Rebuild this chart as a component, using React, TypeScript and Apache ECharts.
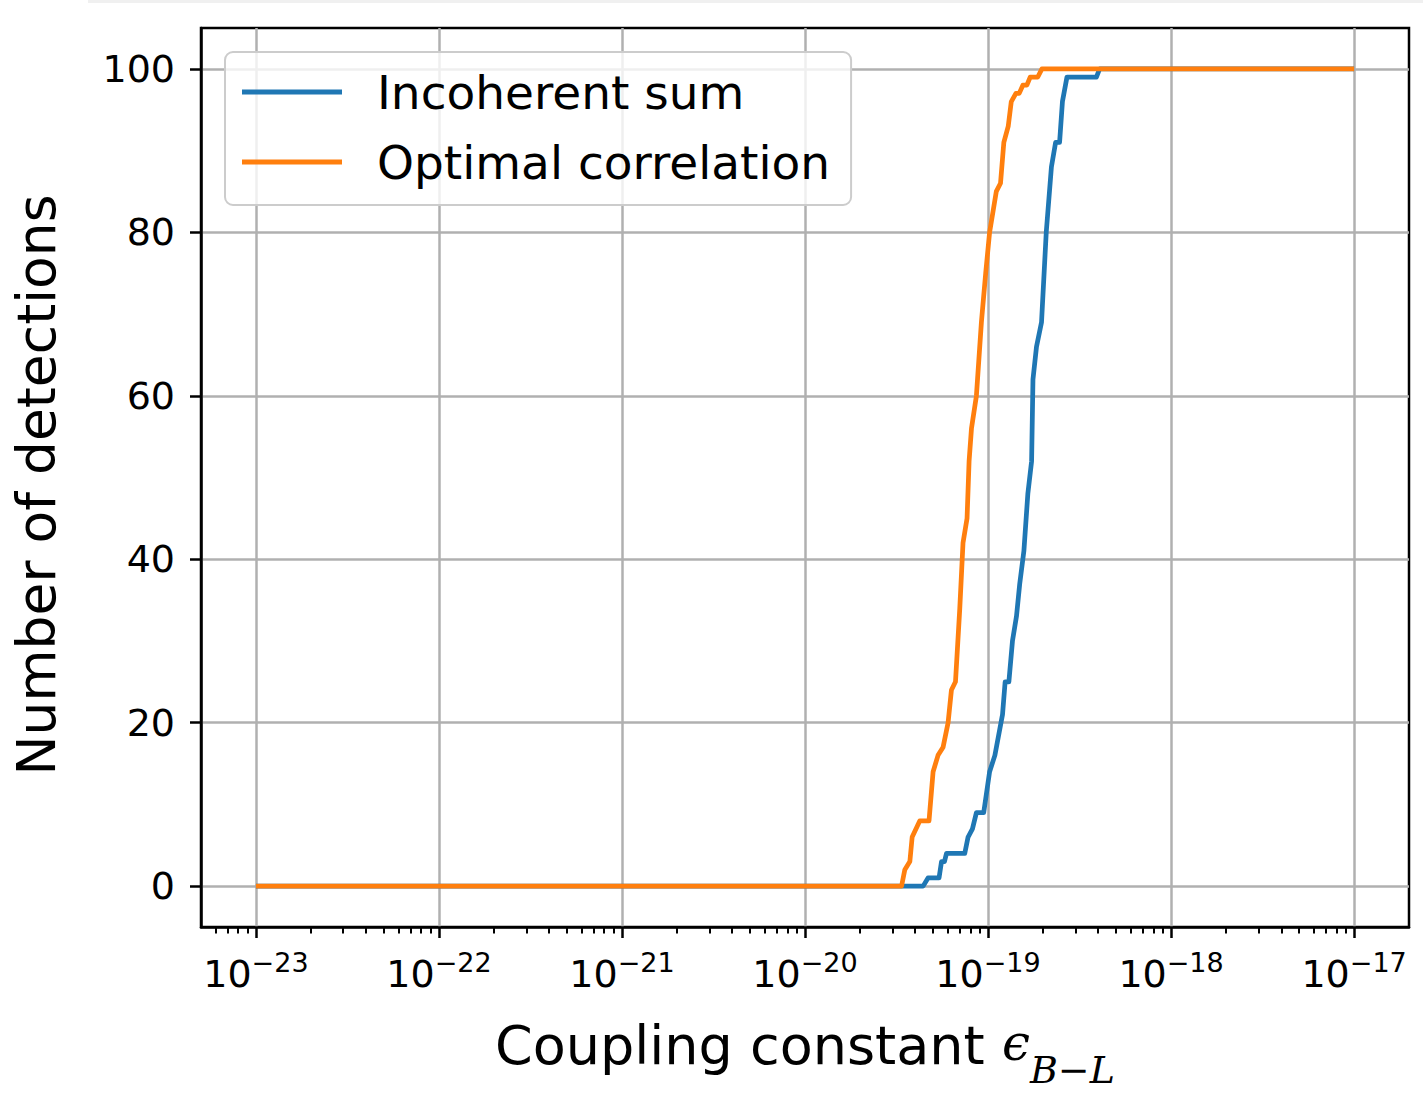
import React, { useEffect, useRef } from "react";
import * as echarts from "echarts";

// Coupling constant values (x) and number of detections (y)
const incoherentEps = [
  1e-23, 4.42e-20, 4.70e-20, 5.40e-20, 5.57e-20, 5.78e-20, 5.93e-20, 7.46e-20, 7.78e-20,
  8.22e-20, 8.64e-20, 9.47e-20, 1.02e-19, 1.09e-19, 1.20e-19, 1.24e-19, 1.30e-19, 1.36e-19,
  1.43e-19, 1.49e-19, 1.57e-19, 1.65e-19, 1.73e-19, 1.76e-19, 1.84e-19, 1.96e-19, 2.08e-19,
  2.22e-19, 2.34e-19, 2.46e-19, 2.55e-19, 2.70e-19, 3.91e-19, 4.07e-19, 1e-17,
];
const incoherentDetections = [
  0, 0, 1, 1, 3, 3, 4, 4, 6,
  7, 9, 9, 14, 16, 21, 25, 25, 30,
  33, 37, 41, 48, 52, 62, 66, 69, 80,
  88, 91, 91, 96, 99, 99, 100, 100,
];

const optimalEps = [
  1e-23, 3.37e-20, 3.51e-20, 3.74e-20, 3.85e-20, 4.24e-20, 4.76e-20, 5.01e-20, 5.33e-20,
  5.68e-20, 6.05e-20, 6.31e-20, 6.64e-20, 7.01e-20, 7.30e-20, 7.68e-20, 7.88e-20, 8.12e-20,
  8.64e-20, 9.20e-20, 9.71e-20, 1.02e-19, 1.11e-19, 1.17e-19, 1.22e-19, 1.29e-19, 1.34e-19,
  1.42e-19, 1.48e-19, 1.55e-19, 1.63e-19, 1.70e-19, 1.87e-19, 1.97e-19, 1e-17,
];
const optimalDetections = [
  0, 0, 2, 3, 6, 8, 8, 14, 16,
  17, 20, 24, 25, 34, 42, 45, 52, 56,
  60, 69, 75, 80, 85, 86, 91, 93, 96,
  97, 97, 98, 98, 99, 99, 100, 100,
];

const seriesNames = ["Incoherent sum", "Optimal correlation"];
const majorExponents = [-23, -22, -21, -20, -19, -18, -17];
const yTicks = [0, 20, 40, 60, 80, 100];
const minorMantissas = [2, 3, 4, 5, 6, 7, 8, 9];

const X_MIN = -23.3;
const X_MAX = -16.7;

export default function App() {
  const ref = useRef<HTMLDivElement>(null);

  useEffect(() => {
    document.body.style.margin = "0";
    if (!ref.current) return;
    const chart = echarts.init(ref.current, undefined, { renderer: "svg" });

    const toPairs = (xs: number[], ys: number[]) => xs.map((x, i) => [Math.log10(x), ys[i]]);

    const minorValues: number[] = [];
    for (let e = -24; e <= -17; e++) {
      for (const m of minorMantissas) {
        const v = Math.log10(m) + e;
        if (v > X_MIN && v < X_MAX) minorValues.push(v);
      }
    }

    const font = "DejaVu Sans";

    chart.setOption({
      animation: false,
      backgroundColor: "#ffffff",
      graphic: [
        {
          type: "rect",
          silent: true,
          z: -10,
          shape: { x: 88, y: 0, width: 1335, height: 3 },
          style: { fill: "#f0f0f0" },
        },
      ],
      grid: {
        left: 201,
        right: 14,
        top: 28,
        bottom: 171,
        show: true,
        borderColor: "#000000",
        borderWidth: 2.5,
        backgroundColor: "transparent",
        outerBoundsMode: "none",
        containLabel: false,
      },
      legend: {
        orient: "vertical",
        left: 225,
        top: 52,
        itemWidth: 100,
        itemHeight: 5,
        itemGap: 14,
        icon: "rect",
        padding: [12, 21, 15, 17],
        backgroundColor: "rgba(255,255,255,0.8)",
        borderColor: "#cccccc",
        borderWidth: 2,
        borderRadius: 8,
        textStyle: {
          fontSize: 47,
          fontFamily: font,
          color: "#000000",
          lineHeight: 56,
          padding: [0, 0, 0, 30],
        },
        data: seriesNames,
      },
      xAxis: [
        {
          type: "value",
          min: X_MIN,
          max: X_MAX,
          position: "bottom",
          name: "{a|Coupling constant }{e|ϵ}{sub|B−L}",
          nameLocation: "middle",
          nameGap: 91,
          nameMoveOverlap: false,
          nameTextStyle: {
            color: "#000000",
            rich: {
              a: { fontSize: 54, fontFamily: font, color: "#000", lineHeight: 60, verticalAlign: "top" },
              e: {
                fontSize: 50,
                fontFamily: "DejaVu Serif",
                fontStyle: "italic",
                color: "#000",
                lineHeight: 60,
                verticalAlign: "top",
              },
              sub: {
                fontSize: 38,
                fontFamily: "DejaVu Serif",
                fontStyle: "italic",
                color: "#000",
                lineHeight: 71,
                verticalAlign: "bottom",
              },
            },
          },
          axisLine: { show: true, onZero: false, lineStyle: { color: "#000000", width: 2.5 } },
          axisTick: {
            show: true,
            inside: false,
            length: 11,
            lineStyle: { color: "#000000", width: 2.5 },
            customValues: majorExponents,
          },
          axisLabel: {
            show: true,
            margin: 22,
            customValues: majorExponents,
            formatter: (v: number) => `{b|10}{s|−${Math.abs(Math.round(v))}}`,
            rich: {
              b: { fontSize: 38, fontFamily: font, color: "#000", lineHeight: 44, verticalAlign: "bottom" },
              s: { fontSize: 27, fontFamily: font, color: "#000", lineHeight: 24, verticalAlign: "top" },
            },
          },
          splitLine: { show: true, lineStyle: { color: "#b0b0b0", width: 2.5 } },
        },
        {
          type: "value",
          min: X_MIN,
          max: X_MAX,
          position: "bottom",
          offset: 0,
          axisLine: { show: false, onZero: false },
          axisTick: {
            show: true,
            inside: false,
            length: 6.5,
            lineStyle: { color: "#000000", width: 2 },
            customValues: minorValues,
          },
          axisLabel: { show: false },
          splitLine: { show: false },
        },
      ],
      yAxis: {
        type: "value",
        min: -5,
        max: 105,
        name: "Number of detections",
        nameLocation: "middle",
        nameGap: 138,
        nameMoveOverlap: false,
        nameTextStyle: { fontSize: 53.5, fontFamily: font, color: "#000000", padding: [0, 15, 0, 0] },
        axisLine: { show: true, onZero: false, lineStyle: { color: "#000000", width: 2.5 } },
        axisTick: {
          show: true,
          inside: false,
          length: 11,
          lineStyle: { color: "#000000", width: 2.5 },
          customValues: yTicks,
        },
        axisLabel: {
          show: true,
          margin: 26,
          customValues: yTicks,
          fontSize: 38,
          fontFamily: font,
          color: "#000000",
        },
        splitLine: { show: true, lineStyle: { color: "#b0b0b0", width: 2.5 } },
      },
      series: [
        {
          name: seriesNames[0],
          type: "line",
          xAxisIndex: 0,
          showSymbol: false,
          symbol: "none",
          color: "#1f77b4",
          lineStyle: { color: "#1f77b4", width: 4.75, join: "round" },
          data: toPairs(incoherentEps, incoherentDetections),
        },
        {
          name: seriesNames[1],
          type: "line",
          xAxisIndex: 0,
          showSymbol: false,
          symbol: "none",
          color: "#ff7f0e",
          lineStyle: { color: "#ff7f0e", width: 4.75, join: "round" },
          data: toPairs(optimalEps, optimalDetections),
        },
      ],
    });

    return () => chart.dispose();
  }, []);

  return (
    <div
      ref={ref}
      style={{ position: "absolute", left: 0, top: 0, width: 1423, height: 1098, background: "#fff" }}
    />
  );
}
